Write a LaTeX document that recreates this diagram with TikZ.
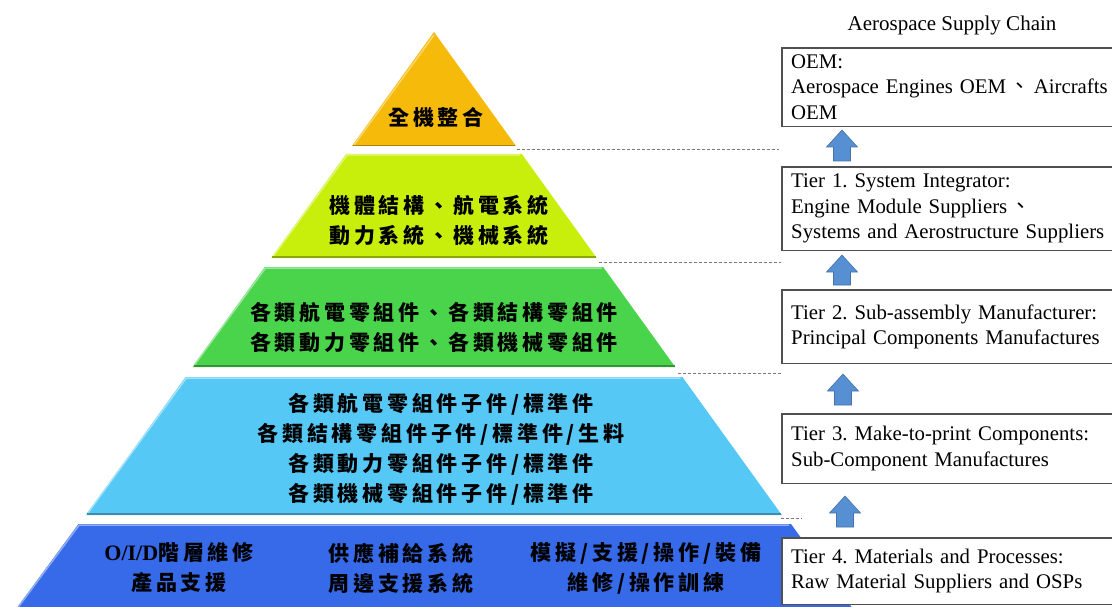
\documentclass[tikz,border=0pt]{standalone}
\usepackage{fontspec}
\setmainfont{Liberation Serif}
\newfontfamily\cjk[LetterSpace=18]{Noto Sans CJK TC}
\newfontfamily\cjkplain{Noto Sans CJK TC}
\definecolor{cTop}{RGB}{246,186,10}
\definecolor{cT2}{RGB}{200,238,12}
\definecolor{cT3}{RGB}{74,212,76}
\definecolor{cT4}{RGB}{86,200,245}
\definecolor{cT5}{RGB}{54,106,232}
\definecolor{arrowblue}{RGB}{86,144,210}
\definecolor{boxgray}{RGB}{80,80,80}
\definecolor{dashgray}{RGB}{120,120,120}
\tikzset{
  layertext/.style={font=\cjk\bfseries\fontsize{21}{30}\selectfont, align=center, text=black, inner sep=0pt},
  tierbox/.style={fill=white, anchor=north west, align=left, text width=420pt, inner xsep=9pt, inner ysep=0pt, font=\frenchspacing\fontsize{20.8}{25.5}\selectfont},
  boxedge/.style={draw=boxgray, line width=1.1pt},
  guide/.style={draw=dashgray, dashed, dash pattern=on 3pt off 2pt, line width=0.8pt},
  blockarrow/.style={fill=arrowblue, draw=arrowblue!80!black, line width=0.6pt}
}
\newcommand\uparr[3]{\fill[blockarrow] (#1,#2) -- ({#1+15.5},{#2+17}) -- ({#1+8.5},{#2+17}) -- ({#1+8.5},#3) -- ({#1-8.5},#3) -- ({#1-8.5},{#2+17}) -- ({#1-15.5},{#2+17}) -- cycle;}
\newcommand\cc{{\cjkplain 、}}
\newcommand\openbox[1]{\draw[boxedge] (#1.north east) -- (#1.north west) -- (#1.south west) -- (#1.south east);}
\begin{document}
\begin{tikzpicture}[x=1pt,y=-1pt]
\useasboundingbox (0,0) rectangle (1112,607);
\clip (0,0) rectangle (1112,607);
\fill[white] (0,0) rectangle (1112,607);

% pyramid layers
\fill[cTop] (434,32) -- (516,146) -- (352,146) -- cycle;
\draw[cTop!60!white, line width=1.5pt] (434,35) -- (354,145);
\draw[cTop!70!black, line width=1.5pt] (353,145.5) -- (515,145.5);

\fill[cT2] (346.2,154) -- (521.8,154) -- (596.7,258) -- (271.3,258) -- cycle;
\draw[cT2!55!white, line width=1.5pt] (273,256.5) -- (347,155) -- (520,155);
\draw[cT2!70!black, line width=1.5pt] (272,257.2) -- (596,257.2);

\fill[cT3] (264.8,267) -- (603.2,267) -- (675.2,367) -- (192.8,367) -- cycle;
\draw[cT3!55!white, line width=1.5pt] (194,365.5) -- (265.5,268) -- (601.5,268);
\draw[cT3!70!black, line width=1.5pt] (193.5,366.2) -- (674.5,366.2);

\fill[cT4] (185.6,377) -- (682.4,377) -- (781.8,515) -- (86.2,515) -- cycle;
\draw[cT4!55!white, line width=1.5pt] (87.5,513.5) -- (186.3,378) -- (680.5,378);
\draw[cT4!70!black, line width=1.5pt] (87,514.2) -- (781,514.2);

\fill[cT5] (78.5,524) -- (791,524) -- (861,620) -- (8,620) -- cycle;
\draw[cT5!55!white, line width=1.5pt] (9.5,619) -- (79.2,525) -- (789,525);

% pyramid texts
\node[layertext] (l1) at (436,117) {全機整合};
\node[layertext] (l2) at (439,221) {機體結構、航電系統\\動力系統、機械系統};
\node[layertext] (l3) at (434,328) {各類航電零組件、各類結構零組件\\各類動力零組件、各類機械零組件};
\node[layertext] (l4) at (441,449) {各類航電零組件子件/標準件\\各類結構零組件子件/標準件/生料\\各類動力零組件子件/標準件\\各類機械零組件子件/標準件};
\node[layertext] (l5a) at (179,568) {{\rmfamily\bfseries\fontsize{22}{30}\selectfont O/I/D}階層維修\\產品支援};
\node[layertext] (l5b) at (401,568) {供應補給系統\\周邊支援系統};
\node[layertext] (l5c) at (646,568) {模擬/支援/操作/裝備\\維修/操作訓練};

% title
\node[font=\fontsize{21}{24}\selectfont, inner sep=0pt] (title) at (952,25) {Aerospace Supply Chain};

% tier boxes
\node[tierbox, minimum height=78pt] (oem) at (782,48) {OEM:\\Aerospace Engines OEM\,\cc\,Aircrafts\\OEM};
\node[tierbox, minimum height=83pt] (t1) at (782,167) {Tier 1. System Integrator:\\Engine Module Suppliers\,\cc\\Systems and Aerostructure Suppliers};
\node[tierbox, minimum height=73pt] (t2) at (782,290) {Tier 2. Sub-assembly Manufacturer:\\Principal Components Manufactures};
\node[tierbox, minimum height=69pt] (t3) at (782,414) {Tier 3. Make-to-print Components:\\Sub-Component Manufactures};
\node[tierbox, minimum height=66pt] (t4) at (782,538) {Tier 4. Materials and Processes:\\Raw Material Suppliers and OSPs};
\openbox{oem}
\openbox{t1}
\openbox{t2}
\openbox{t3}
\openbox{t4}

% block arrows
\uparr{842}{130}{161}
\uparr{842}{255}{285}
\uparr{843}{374}{405}
\uparr{845}{496}{527}

% dashed guides
\coordinate (g1a) at (517,149); \coordinate (g1b) at (779,149);
\coordinate (g2a) at (599,262); \coordinate (g2b) at (781,262);
\coordinate (g3a) at (678,373); \coordinate (g3b) at (781,373);
\coordinate (g4a) at (781,518); \coordinate (g4b) at (802,518);
\draw[guide] (g1a) -- (g1b);
\draw[guide] (g2a) -- (g2b);
\draw[guide] (g3a) -- (g3b);
\draw[guide] (g4a) -- (g4b);
\end{tikzpicture}
\end{document}
